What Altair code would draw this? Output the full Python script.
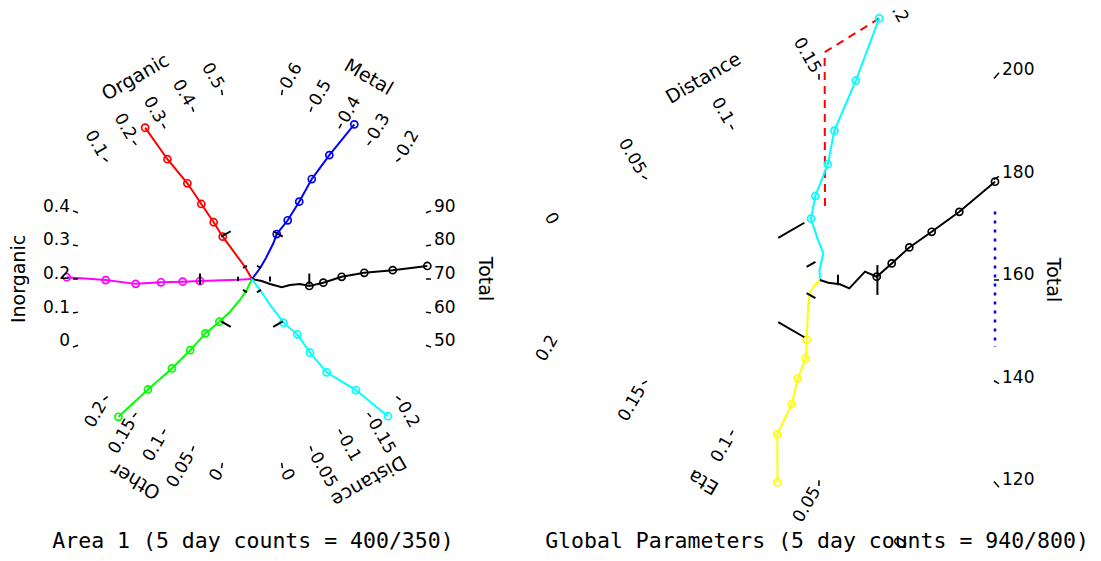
import math
import altair as alt
import pandas as pd

# ---------------- titles ----------------
left_title = "Area 1 (5 day counts = 400/350)"
right_title = "Global Parameters (5 day counts = 940/800)"

# ---------------- axis tick values ----------------
organic_ticks = [0.1, 0.2, 0.3, 0.4, 0.5]
metal_ticks = [0.2, 0.3, 0.4, 0.5, 0.6]
inorganic_ticks = [0, 0.1, 0.2, 0.3, 0.4]
total1_ticks = [50, 60, 70, 80, 90]
other_ticks = [0, 0.05, 0.1, 0.15, 0.2]
dist1_ticks = [0, 0.05, 0.1, 0.15, 0.2]
dist2_ticks = [0, 0.05, 0.1, 0.15, 0.2]
eta_ticks = [0, 0.05, 0.1, 0.15, 0.2]
total2_ticks = [120, 140, 160, 180, 200]

# ---------------- series: radial position r and value v ----------------
# circles (outer -> inner), then the line-only tail toward the centre
organic_r = [184.5, 146.0, 115.2, 90.3, 68.3, 51.3]
organic_v = [0.252, 0.252, 0.263, 0.263, 0.263, 0.257]
organic_tail_r = [13.9]
organic_tail_v = [0.300]

metal_r = [185.1, 146.0, 116.45, 90.6, 68.7, 51.3]
metal_v = [0.368, 0.382, 0.392, 0.387, 0.388, 0.411]
metal_tail_r = [41.6, 25.2, 13.3]
metal_tail_v = [0.392, 0.367, 0.338]

inorganic_r = [185.3, 146.3, 116.3, 91.0, 69.3, 52.0]
inorganic_v = [0.205, 0.196, 0.178, 0.181, 0.180, 0.180]
inorganic_tail_r = [14.0]
inorganic_tail_v = [0.170]

total1_r = [175.3, 140.7, 112.3, 89.7, 71.3, 57.3]
total1_v = [73.9, 73.3, 72.9, 71.3, 67.3, 63.6]
total1_tail_r = [48.0, 38.0, 29.7, 18.0, 9.7]
total1_tail_v = [64.6, 61.8, 55.4, 55.5, 59.2]

other_r = [186.1, 147.7, 117.5, 92.5, 70.4, 53.35]
other_v = [0.166, 0.162, 0.155, 0.151, 0.149, 0.134]
other_tail_r = [39.3, 24.2, 12.2]
other_tail_v = [0.118, 0.100, 0.081]

dist1_r = [186.8, 148.1, 118.15, 92.8, 70.55, 53.5]
dist1_v = [0.169, 0.161, 0.140, 0.138, 0.143, 0.126]
dist1_tail_r = [42.05, 31.5, 22.35, 13.5]
dist1_tail_v = [0.126, 0.122, 0.125, 0.127]

dist2_r = [196.9, 154.75, 122.15, 96.35, 75.1, 57.6]
dist2_v = [0.181, 0.174, 0.1625, 0.1588, 0.1443, 0.1348]
dist2_tail_r = [39.75, 21.5, 8.9]
dist2_tail_v = [0.142, 0.166, 0.145]

eta_r = [196.55, 154.95, 121.55, 96.25, 74.95, 58.0]
eta_v = [0.0713, 0.0773, 0.0729, 0.0728, 0.0686, 0.0726]
eta_tail_r = [26.05, 15.1, 6.8]
eta_tail_v = [0.095, 0.116, 0.124]

total2_r = [175.0, 139.3, 111.7, 89.3, 71.7, 56.7]
total2_v = [179.4, 176.9, 174.9, 172.6, 168.0, 162.0]
total2_tail_r = [45.0, 29.3, 20.0, 8.3]
total2_tail_v = [166.4, 150.2, 152.6, 148.8]

# reference ranges in the right panel
dist2_ref_r = [196.9, 194.9, 59.85]
dist2_ref_v = [0.181, 0.153, 0.159]
total2_ref_r = [175.0, 175.0]
total2_ref_v = [173.5, 146.8]

# uncertainty markers (radius, half-width in value units)
left_mark_r = [14.0, 52.0]
total1_mark_r = [18.0, 57.3]
right_mark_r = [18.0, 57.4]
organic_err = [0.085, 0.055]
metal_err = [0.085, 0.055]
inorganic_err = [0.085, 0.055]
total1_err = [7.3, 5.0]
other_err = [0.043, 0.028]
dist1_err = [0.043, 0.028]
dist2_err = [0.025, 0.023]
eta_err = [0.025, 0.023]
total2_err = [9.9, 9.0]

# ---------------- layout of the spokes ----------------
R = 177.0
L_C = (252.0, 279.0)
R_C = (820.0, 280.0)

spokes = {
    "organic": dict(c=L_C, angle=120, side="L", mid=0.3, step=0.1, px=33.7, ticks=organic_ticks,
                    title="Organic", color="#ff0000", r=organic_r, v=organic_v,
                    tr=organic_tail_r, tv=organic_tail_v, mr=left_mark_r, err=organic_err, skip=[]),
    "metal": dict(c=L_C, angle=60, side="R", mid=0.4, step=0.1, px=33.7, ticks=metal_ticks,
                  title="Metal", color="#0000ff", r=metal_r, v=metal_v,
                  tr=metal_tail_r, tv=metal_tail_v, mr=left_mark_r, err=metal_err, skip=[]),
    "inorganic": dict(c=L_C, angle=180, side="L", mid=0.2, step=0.1, px=33.7, ticks=inorganic_ticks,
                      title="Inorganic", color="#ff00ff", r=inorganic_r, v=inorganic_v,
                      tr=inorganic_tail_r, tv=inorganic_tail_v, mr=left_mark_r, err=inorganic_err, skip=[]),
    "total1": dict(c=L_C, angle=0, side="R", mid=70, step=10, px=33.7, ticks=total1_ticks,
                   title="Total", color="#000000", r=total1_r, v=total1_v,
                   tr=total1_tail_r, tv=total1_tail_v, mr=total1_mark_r, err=total1_err, skip=[]),
    "other": dict(c=L_C, angle=240, side="L", mid=0.1, step=0.05, px=33.7, ticks=other_ticks,
                  title="Other", color="#00ff00", r=other_r, v=other_v,
                  tr=other_tail_r, tv=other_tail_v, mr=left_mark_r, err=other_err, skip=[]),
    "dist1": dict(c=L_C, angle=300, side="R", mid=0.1, step=0.05, px=33.7, ticks=dist1_ticks,
                  title="Distance", color="#00ffff", r=dist1_r, v=dist1_v,
                  tr=dist1_tail_r, tv=dist1_tail_v, mr=left_mark_r, err=dist1_err, skip=[]),
    "dist2": dict(c=R_C, angle=120, side="L", mid=0.1, step=0.05, px=101.0, ticks=dist2_ticks,
                  title="Distance", color="#00ffff", r=dist2_r, v=dist2_v,
                  tr=dist2_tail_r, tv=dist2_tail_v, mr=right_mark_r, err=dist2_err, skip=[0, 0.2]),
    "eta": dict(c=R_C, angle=240, side="L", mid=0.1, step=0.05, px=101.0, ticks=eta_ticks,
                title="Eta", color="#ffff00", r=eta_r, v=eta_v,
                tr=eta_tail_r, tv=eta_tail_v, mr=right_mark_r, err=eta_err, skip=[0, 0.2]),
    "total2": dict(c=R_C, angle=0, side="R", mid=160, step=20, px=102.5, ticks=total2_ticks,
                   title="Total", color="#000000", r=total2_r, v=total2_v,
                   tr=total2_tail_r, tv=total2_tail_v, mr=right_mark_r, err=total2_err, skip=[]),
}


def spoke_dir(sp):
    a = math.radians(sp["angle"])
    return math.cos(a), -math.sin(a)


def place(sp, u, val):
    sx, sy = spoke_dir(sp)
    b = math.radians(sp["angle"] - 90 if sp["side"] == "L" else sp["angle"] + 90)
    px, py = math.cos(b), -math.sin(b)
    k = sp["px"] / sp["step"]
    off = (u / R) * (val - sp["mid"]) * k
    return sp["c"][0] + u * sx + off * px, sp["c"][1] + u * sy + off * py


def fmt(v):
    return "%g" % v


line_rows, tick_rows, lab_rows, title_rows, mark_rows = [], [], [], [], []
for name, sp in spokes.items():
    us = sp["r"] + sp["tr"] + [0.0]
    vs = sp["v"] + sp["tv"] + [sp["mid"]]
    for i, (u, v) in enumerate(zip(us, vs)):
        x, y = place(sp, u, v)
        line_rows.append(dict(series=name, x=x, y=y, ord=i, circle=i < len(sp["r"])))
    sx, sy = spoke_dir(sp)
    horizontal = sp["angle"] % 180 == 0
    for t in sp["ticks"]:
        if t not in sp["skip"]:
            x1, y1 = place(sp, R - 3, t)
            x2, y2 = place(sp, R + 2, t)
            tick_rows.append(dict(x=x1, y=y1, x2=x2, y2=y2))
        bx, by = place(sp, R, t)
        lx, ly = bx + 5 * sx, by + 5 * sy
        if sp["side"] == "L":
            ang = (180 - sp["angle"]) % 360
        else:
            ang = (-sp["angle"]) % 360
        lab_rows.append(dict(x=lx, y=ly, text=fmt(t), ang=ang,
                             al="right" if sp["side"] == "L" else "left",
                             bl="alphabetic" if horizontal else "middle"))
    tx, ty = place(sp, 233, sp["mid"])
    title_rows.append(dict(x=tx, y=ty, text=sp["title"], ang=(90 - sp["angle"]) % 360))
    for mu, e in zip(sp["mr"], sp["err"]):
        x1, y1 = place(sp, mu, sp["mid"] - e)
        x2, y2 = place(sp, mu, sp["mid"] + e)
        mark_rows.append(dict(x=x1, y=y1, x2=x2, y2=y2))

ref_red = []
for i, (u, v) in enumerate(zip(dist2_ref_r, dist2_ref_v)):
    x, y = place(spokes["dist2"], u, v)
    ref_red.append(dict(x=x, y=y, ord=i))
ref_blue = []
for i, (u, v) in enumerate(zip(total2_ref_r, total2_ref_v)):
    x, y = place(spokes["total2"], u, v)
    ref_blue.append(dict(x=x, y=y, ord=i))

bottom_rows = [dict(x=L_C[0] + 1, y=548, text=left_title),
               dict(x=R_C[0] - 3, y=548, text=right_title)]

lines = pd.DataFrame(line_rows)
ticks = pd.DataFrame(tick_rows)
labs = pd.DataFrame(lab_rows)
titles = pd.DataFrame(title_rows)
marks = pd.DataFrame(mark_rows)

xs = alt.Scale(domain=[8, 1093], nice=False, zero=False)
ys = alt.Scale(domain=[8, 553], nice=False, zero=False, reverse=True)
X = alt.X("x:Q", scale=xs, axis=None)
Y = alt.Y("y:Q", scale=ys, axis=None)

names = list(spokes.keys())
cols = [spokes[n]["color"] for n in names]
color = alt.Color("series:N", scale=alt.Scale(domain=names, range=cols), legend=None)

line_layer = alt.Chart(lines).mark_line(strokeWidth=2).encode(
    x=X, y=Y, color=color, detail="series:N", order="ord:Q")
point_layer = alt.Chart(lines).transform_filter("datum.circle").mark_point(
    shape="circle", filled=False, size=50, strokeWidth=1.7, opacity=1).encode(
    x=X, y=Y, color=color)
tick_layer = alt.Chart(ticks).mark_rule(color="black", strokeWidth=1.5).encode(
    x=X, y=Y, x2="x2:Q", y2="y2:Q")
mark_layer = alt.Chart(marks).mark_rule(color="black", strokeWidth=2).encode(
    x=X, y=Y, x2="x2:Q", y2="y2:Q")
red_layer = alt.Chart(pd.DataFrame(ref_red)).mark_line(
    color="#ff0000", strokeWidth=2, strokeDash=[8, 6]).encode(x=X, y=Y, order="ord:Q")
blue_layer = alt.Chart(pd.DataFrame(ref_blue)).mark_line(
    color="#0000ff", strokeWidth=2.5, strokeDash=[3, 6]).encode(x=X, y=Y, order="ord:Q")

label_layers = []
for al in ["left", "right"]:
    for bl in ["alphabetic", "middle"]:
        label_layers.append(
            alt.Chart(labs).transform_filter(
                "datum.al == '%s' && datum.bl == '%s'" % (al, bl)
            ).mark_text(
                align=al, baseline=bl, font="DejaVu Sans", fontSize=17, color="black"
            ).encode(x=X, y=Y, text="text:N", angle=alt.Angle("ang:Q", scale=None))
        )

title_layer = alt.Chart(titles).mark_text(
    align="center", baseline="middle", font="DejaVu Sans", fontSize=19, color="black").encode(
    x=X, y=Y, text="text:N", angle=alt.Angle("ang:Q", scale=None))
bottom_layer = alt.Chart(pd.DataFrame(bottom_rows)).mark_text(
    align="center", baseline="alphabetic", font="DejaVu Sans Mono", fontSize=21.5, color="black").encode(
    x=X, y=Y, text="text:N")

chart = alt.layer(
    red_layer, blue_layer, line_layer, point_layer, mark_layer, tick_layer,
    *label_layers, title_layer, bottom_layer
).properties(
    width=1085, height=545, padding=0,
    autosize=alt.AutoSizeParams(type="none")
).configure_view(stroke=None)

chart.save("out.html", embed_options={"renderer": "svg", "actions": False})
